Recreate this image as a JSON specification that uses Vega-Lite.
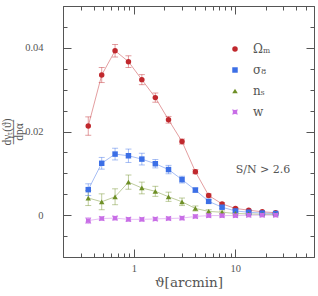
{
  "$schema": "https://vega.github.io/schema/vega-lite/v6.json",
  "width": 251,
  "height": 251,
  "autosize": {"type": "none"},
  "padding": {"left": 63, "top": 6, "right": 4, "bottom": 39},
  "background": "white",
  "config": {
    "view": {"stroke": "#555", "strokeWidth": 1},
    "font": "Liberation Serif",
    "axis": {"domainColor": "#555", "tickColor": "#555", "labelColor": "#555", "labelFont": "Liberation Serif", "labelFontSize": 10.5, "titleFont": "DejaVu Serif", "titleColor": "#555", "titleFontWeight": "normal", "grid": false}
  },
  "datasets": {
    "pts": [
      {"p":"Ωₘ","x":0.355,"y":0.0213,"e":0.0022},
      {"p":"Ωₘ","x":0.482,"y":0.0335,"e":0.0018},
      {"p":"Ωₘ","x":0.653,"y":0.0393,"e":0.0015},
      {"p":"Ωₘ","x":0.885,"y":0.0367,"e":0.0014},
      {"p":"Ωₘ","x":1.2,"y":0.0324,"e":0.0012},
      {"p":"Ωₘ","x":1.63,"y":0.0281,"e":0.0011},
      {"p":"Ωₘ","x":2.2,"y":0.0228,"e":0.0008},
      {"p":"Ωₘ","x":2.99,"y":0.0176,"e":0.0006},
      {"p":"Ωₘ","x":4.05,"y":0.0104,"e":0.0005},
      {"p":"Ωₘ","x":5.48,"y":0.0047,"e":0.0004},
      {"p":"Ωₘ","x":7.43,"y":0.0027,"e":0.0003},
      {"p":"Ωₘ","x":10.07,"y":0.0016,"e":0.0002},
      {"p":"Ωₘ","x":13.6,"y":0.0012,"e":0.0002},
      {"p":"Ωₘ","x":18.5,"y":0.0008,"e":0.0001},
      {"p":"Ωₘ","x":25.1,"y":0.0006,"e":0.0001},
      {"p":"σ₈","x":0.355,"y":0.0061,"e":0.0014},
      {"p":"σ₈","x":0.482,"y":0.0124,"e":0.0014},
      {"p":"σ₈","x":0.653,"y":0.0146,"e":0.0014},
      {"p":"σ₈","x":0.885,"y":0.0142,"e":0.0016},
      {"p":"σ₈","x":1.2,"y":0.0134,"e":0.0014},
      {"p":"σ₈","x":1.63,"y":0.0123,"e":0.001},
      {"p":"σ₈","x":2.2,"y":0.0109,"e":0.001},
      {"p":"σ₈","x":2.99,"y":0.0085,"e":0.0008},
      {"p":"σ₈","x":4.05,"y":0.006,"e":0.0005},
      {"p":"σ₈","x":5.48,"y":0.0033,"e":0.0004},
      {"p":"σ₈","x":7.43,"y":0.0019,"e":0.0003},
      {"p":"σ₈","x":10.07,"y":0.001,"e":0.0002},
      {"p":"σ₈","x":13.6,"y":0.0007,"e":0.0002},
      {"p":"σ₈","x":18.5,"y":0.0005,"e":0.0001},
      {"p":"σ₈","x":25.1,"y":0.0004,"e":0.0001},
      {"p":"nₛ","x":0.355,"y":0.0041,"e":0.0018},
      {"p":"nₛ","x":0.482,"y":0.0032,"e":0.0019},
      {"p":"nₛ","x":0.653,"y":0.0044,"e":0.0019},
      {"p":"nₛ","x":0.885,"y":0.0079,"e":0.0017},
      {"p":"nₛ","x":1.2,"y":0.0065,"e":0.0014},
      {"p":"nₛ","x":1.63,"y":0.0057,"e":0.0012},
      {"p":"nₛ","x":2.2,"y":0.0044,"e":0.0011},
      {"p":"nₛ","x":2.99,"y":0.0032,"e":0.0009},
      {"p":"nₛ","x":4.05,"y":0.0016,"e":0.0006},
      {"p":"nₛ","x":5.48,"y":0.0009,"e":0.0004},
      {"p":"nₛ","x":7.43,"y":0.0007,"e":0.0003},
      {"p":"nₛ","x":10.07,"y":0.0004,"e":0.0002},
      {"p":"nₛ","x":13.6,"y":0.0003,"e":0.0002},
      {"p":"nₛ","x":18.5,"y":0.0002,"e":0.0001},
      {"p":"nₛ","x":25.1,"y":0.0002,"e":0.0001},
      {"p":"w","x":0.355,"y":-0.0013,"e":0.0007},
      {"p":"w","x":0.482,"y":-0.0008,"e":0.0004},
      {"p":"w","x":0.653,"y":-0.0007,"e":0.0004},
      {"p":"w","x":0.885,"y":-0.001,"e":0.0004},
      {"p":"w","x":1.2,"y":-0.001,"e":0.0003},
      {"p":"w","x":1.63,"y":-0.0009,"e":0.0003},
      {"p":"w","x":2.2,"y":-0.0008,"e":0.0003},
      {"p":"w","x":2.99,"y":-0.0007,"e":0.0003},
      {"p":"w","x":4.05,"y":-0.0003,"e":0.0003},
      {"p":"w","x":5.48,"y":-0.0001,"e":0.0002},
      {"p":"w","x":7.43,"y":-0.0001,"e":0.0002},
      {"p":"w","x":10.07,"y":-0.0001,"e":0.0002},
      {"p":"w","x":13.6,"y":0.0,"e":0.0001},
      {"p":"w","x":18.5,"y":0.0,"e":0.0001},
      {"p":"w","x":25.1,"y":0.0,"e":0.0001}
    ]
  },
  "layer": [
    {
      "data": {"name": "pts"},
      "mark": {"type": "errorbar", "ticks": {"size": 6, "opacity": 0.45}, "rule": {"opacity": 0.45, "strokeWidth": 1}},
      "encoding": {
        "x": {"field": "x", "type": "quantitative", "scale": {"type": "log", "domain": [0.2, 60], "nice": false}, "axis": null},
        "y": {"field": "y", "type": "quantitative", "scale": {"domain": [-0.01, 0.05], "nice": false, "zero": false}, "axis": null},
        "yError": {"field": "e"},
        "color": {"field": "p", "type": "nominal", "scale": {"domain": ["Ωₘ", "σ₈", "nₛ", "w"], "range": ["#c0282d", "#3c6fe6", "#6e8f26", "#c86ee6"]}, "legend": null}
      }
    },
    {
      "data": {"name": "pts"},
      "mark": {"type": "line", "opacity": 0.45, "strokeWidth": 1},
      "encoding": {
        "x": {"field": "x", "type": "quantitative", "scale": {"type": "log", "domain": [0.2, 60], "nice": false}, "axis": null},
        "y": {"field": "y", "type": "quantitative", "scale": {"domain": [-0.01, 0.05], "nice": false, "zero": false}, "axis": null},
        "color": {"field": "p", "type": "nominal", "scale": {"domain": ["Ωₘ", "σ₈", "nₛ", "w"], "range": ["#c0282d", "#3c6fe6", "#6e8f26", "#c86ee6"]}, "legend": null}
      }
    },
    {
      "data": {"name": "pts"},
      "mark": {"type": "point", "filled": true, "opacity": 1, "size": 30},
      "encoding": {
        "x": {"field": "x", "type": "quantitative", "scale": {"type": "log", "domain": [0.2, 60], "nice": false},
          "axis": {"orient": "bottom", "values": [0.2,0.3,0.4,0.5,0.6,0.7,0.8,0.9,1,2,3,4,5,6,7,8,9,10,20,30,40,50,60],
            "labelExpr": "datum.value == 1 ? '1' : (datum.value == 10 ? '10' : '')",
            "tickSize": {"condition": {"test": "datum.value == 1 || datum.value == 10", "value": -8}, "value": -4},
            "labelPadding": 14, "title": "ϑ[arcmin]", "titleFontSize": 13.5, "titlePadding": 2, "titleColor": "#555", "domain": false}},
        "y": {"field": "y", "type": "quantitative", "scale": {"domain": [-0.01, 0.05], "nice": false, "zero": false},
          "axis": {"orient": "left", "values": [-0.01,-0.005,0,0.005,0.01,0.015,0.02,0.025,0.03,0.035,0.04,0.045,0.05],
            "labelExpr": "datum.value == 0 ? '0' : (abs(datum.value - 0.02) < 1e-9 ? '0.02' : (abs(datum.value - 0.04) < 1e-9 ? '0.04' : ''))",
            "tickSize": {"condition": {"test": "abs(datum.value) < 1e-9 || abs(datum.value - 0.02) < 1e-9 || abs(datum.value - 0.04) < 1e-9", "value": -8}, "value": -4},
            "labelPadding": 28, "domain": false,
            "title": ["dγₜ(ϑ)", "───", "dpα"], "titleFont": "Liberation Serif", "titleFontSize": 11.5, "titleLineHeight": 6, "titlePadding": 0, "titleColor": "#555"}},
        "color": {"field": "p", "type": "nominal", "scale": {"domain": ["Ωₘ", "σ₈", "nₛ", "w"], "range": ["#c0282d", "#3c6fe6", "#6e8f26", "#c86ee6"]},
          "legend": {"orient": "none", "legendX": 166, "legendY": 37, "title": null, "padding": 0, "rowPadding": 9, "labelOffset": 12, "symbolSize": 30, "labelFont": "DejaVu Serif", "labelFontSize": 12, "labelColor": "#555"}},
        "shape": {"field": "p", "type": "nominal", "scale": {"domain": ["Ωₘ", "σ₈", "nₛ", "w"], "range": ["circle", "square", "triangle-up", "M-1,-1Q0,-0.5 1,-1Q0.5,0 1,1Q0,0.5 -1,1Q-0.5,0 -1,-1Z"]},
          "legend": {"orient": "none", "legendX": 166, "legendY": 37, "title": null, "padding": 0, "rowPadding": 9, "labelOffset": 12, "symbolSize": 30, "labelFont": "DejaVu Serif", "labelFontSize": 12, "labelColor": "#555"}}
      }
    },
    {
      "data": {"values": [{"x": 18.8, "y": 0.0108, "t": "S/N > 2.6"}]},
      "mark": {"type": "text", "font": "DejaVu Serif", "fontSize": 11, "color": "#555"},
      "encoding": {
        "x": {"field": "x", "type": "quantitative", "scale": {"type": "log", "domain": [0.2, 60], "nice": false},
          "axis": {"orient": "top", "values": [0.2,0.3,0.4,0.5,0.6,0.7,0.8,0.9,1,2,3,4,5,6,7,8,9,10,20,30,40,50,60], "labels": false, "title": null, "domain": false,
            "tickSize": {"condition": {"test": "datum.value == 1 || datum.value == 10", "value": -8}, "value": -4}}},
        "y": {"field": "y", "type": "quantitative", "scale": {"domain": [-0.01, 0.05], "nice": false, "zero": false},
          "axis": {"orient": "right", "values": [-0.01,-0.005,0,0.005,0.01,0.015,0.02,0.025,0.03,0.035,0.04,0.045,0.05], "labels": false, "title": null, "domain": false,
            "tickSize": {"condition": {"test": "abs(datum.value) < 1e-9 || abs(datum.value - 0.02) < 1e-9 || abs(datum.value - 0.04) < 1e-9", "value": -8}, "value": -4}}},
        "text": {"field": "t"}
      }
    }
  ],
  "resolve": {"axis": {"x": "independent", "y": "independent"}, "legend": {"color": "independent", "shape": "independent"}}
}
